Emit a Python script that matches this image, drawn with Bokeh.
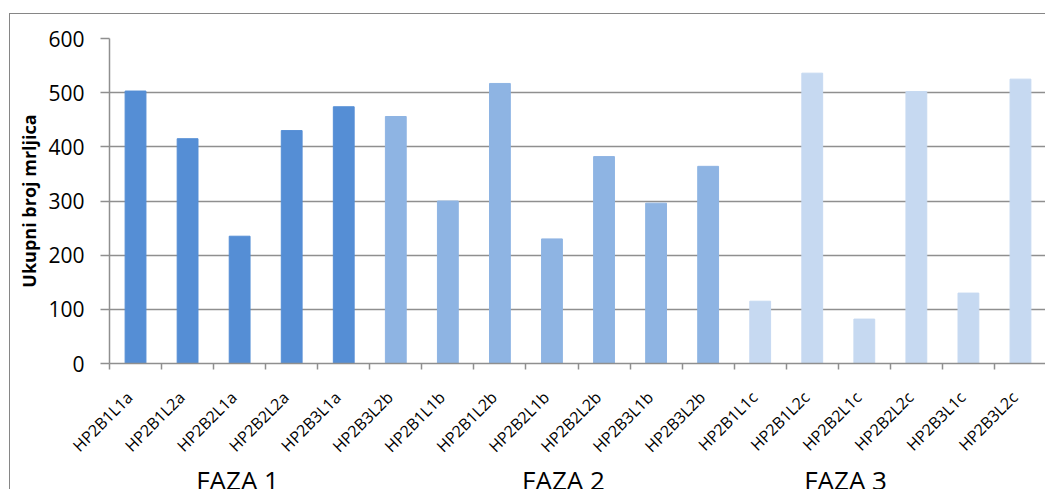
import numpy as np
from bokeh.plotting import figure
from bokeh.models import FixedTicker, LinearAxis, ColumnDataSource
from bokeh.embed import file_html
from bokeh.resources import INLINE

categories = ["HP2B1L1a", "HP2B1L2a", "HP2B2L1a", "HP2B2L2a", "HP2B3L1a",
              "HP2B3L2b", "HP2B1L1b", "HP2B1L2b", "HP2B2L1b", "HP2B2L2b", "HP2B3L1b", "HP2B3L2b",
              "HP2B1L1c", "HP2B1L2c", "HP2B2L1c", "HP2B2L2c", "HP2B3L1c", "HP2B3L2c"]
values = [503, 415, 235, 430, 474,
          456, 300, 517, 230, 382, 296, 364,
          115, 536, 82, 502, 130, 525]
phase = ["FAZA 1"] * 5 + ["FAZA 2"] * 7 + ["FAZA 3"] * 6
phase_colors = {"FAZA 1": "#558ED5", "FAZA 2": "#8EB4E3", "FAZA 3": "#C6D9F1"}
phase_names = ["FAZA 1", "FAZA 2", "FAZA 3"]
phase_label_pos = [2.46, 8.72, 14.14]
y_ticks = [0, 100, 200, 300, 400, 500, 600]

FONT = "Open Sans"
GRID = "#8f8f8f"
NB = "\u00a0\u00a0"

n = len(categories)
xpos = np.arange(n) + 0.5
src = ColumnDataSource(dict(x=xpos, top=values, cat=categories,
                            color=[phase_colors[ph] for ph in phase]))

p = figure(width=1036, height=496, output_backend="svg", toolbar_location=None,
           x_range=(0, n), y_range=(0, 600),
           min_border_left=99, min_border_right=0, min_border_top=24, min_border_bottom=147)
p.styles = {"margin-left": "9px", "margin-top": "13px", "margin-bottom": "-40px",
            "border-left": "1px solid #868686", "border-top": "1px solid #868686"}
p.outline_line_color = None
p.background_fill_color = "white"

p.vbar(x="x", top="top", width=0.4, color="color", source=src)

# y axis
p.yaxis.ticker = FixedTicker(ticks=y_ticks)
p.yaxis.axis_line_color = GRID
p.yaxis.axis_line_width = 1.5
p.yaxis.major_tick_line_color = GRID
p.yaxis.major_tick_line_width = 1.5
p.yaxis.major_tick_out = 9
p.yaxis.major_tick_in = 0
p.yaxis.minor_tick_line_color = None
p.yaxis.major_label_text_font = FONT
p.yaxis.major_label_text_font_size = "21px"
p.yaxis.major_label_text_color = "black"
p.yaxis.major_label_standoff = 16
p.yaxis.axis_label = "Ukupni broj mrljica"
p.yaxis.axis_label_text_font = FONT
p.yaxis.axis_label_text_font_size = "18px"
p.yaxis.axis_label_text_font_style = "bold"
p.yaxis.axis_label_text_color = "black"
p.yaxis.axis_label_standoff = 4

# x axis: labels at category centres, tick marks at category boundaries
xa = p.xaxis[0]
xa.ticker = FixedTicker(ticks=list(xpos), minor_ticks=list(range(n + 1)))
xa.major_label_overrides = {float(x): c + NB for x, c in zip(xpos, categories)}
xa.major_label_orientation = np.pi / 4
xa.major_label_text_font = FONT
xa.major_label_text_font_size = "16px"
xa.major_label_text_color = "black"
xa.major_label_standoff = 19
xa.axis_line_color = GRID
xa.axis_line_width = 1.5
xa.major_tick_line_color = None
xa.major_tick_out = 6
xa.minor_tick_line_color = GRID
xa.minor_tick_line_width = 1.5
xa.minor_tick_out = 6
xa.minor_tick_in = 0

# second axis below carrying the phase names
phase_axis = LinearAxis(ticker=FixedTicker(ticks=phase_label_pos, minor_ticks=[]),
                        major_label_overrides={float(x): t for x, t in zip(phase_label_pos, phase_names)},
                        axis_line_color=None, major_tick_line_color=None, minor_tick_line_color=None,
                        major_tick_out=0, major_tick_in=0,
                        major_label_standoff=-6,
                        major_label_text_font=FONT, major_label_text_font_size="26px",
                        major_label_text_color="black")
p.add_layout(phase_axis, "below")

# grid
p.xgrid.grid_line_color = None
p.ygrid.grid_line_color = GRID
p.ygrid.grid_line_width = 1.5

open("out.html", "w").write(file_html(p, INLINE))
